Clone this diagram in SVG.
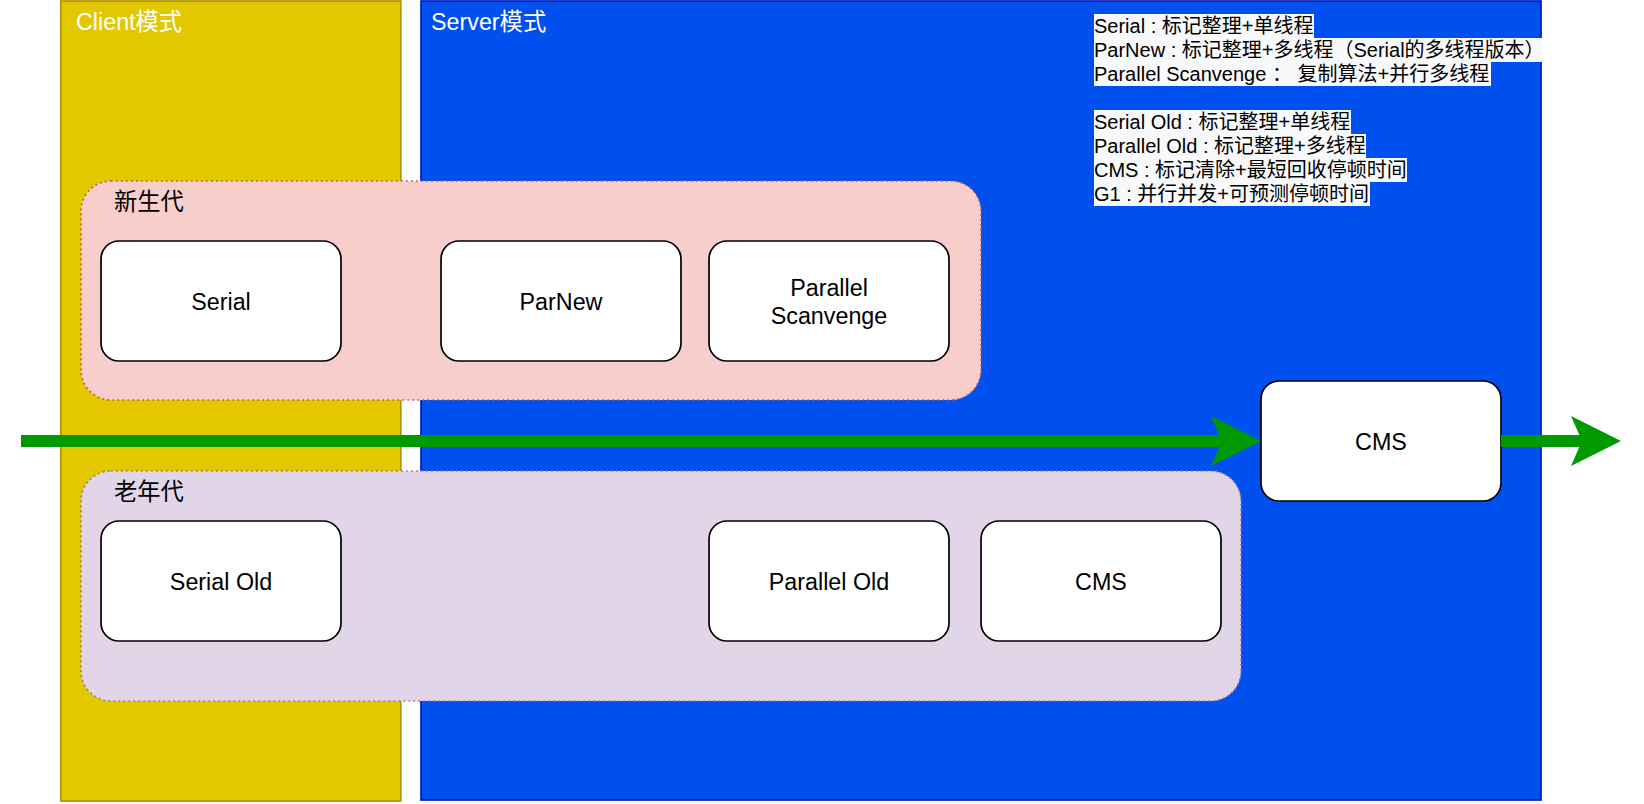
<svg xmlns="http://www.w3.org/2000/svg" width="1644" height="804" viewBox="0 0 1644 804">
<style>
  text { font-family: "Liberation Sans", "Noto Sans CJK SC", sans-serif; }
  .title { font-size: 23.3px; fill: #ffffff; }
  .grp { font-size: 23.3px; fill: #000000; }
  .lbl { font-size: 23.3px; fill: #000000; text-anchor: middle; }
  .leg { font-size: 20px; fill: #000000; }
  .node { fill: #ffffff; stroke: #000000; stroke-width: 1.7; }
  .hl { fill: #f8f9fa; }
  .green { fill: none; stroke: #009900; stroke-width: 12; }
</style>
<defs>
  <marker id="arr" viewBox="0 0 50 50" refX="11" refY="25" markerWidth="50" markerHeight="50" markerUnits="userSpaceOnUse" orient="auto">
    <path d="M0,0 L50,25 L0,50 L11,25 Z" fill="#009900"/>
  </marker>
</defs>
<rect width="1644" height="804" fill="#ffffff"/>

<g id="client">
  <rect x="60.8" y="1" width="340" height="800" fill="#e3c800" stroke="#B09500" stroke-width="1.7"/>
  <text class="title" x="76" y="30">Client模式</text>
</g>
<g id="server">
  <rect x="421" y="1" width="1120" height="799" fill="#0050ef" stroke="#001DBC" stroke-width="1.7"/>
  <text class="title" x="431" y="30">Server模式</text>
</g>

<g id="legend">
  <rect class="hl" x="1094" y="14" width="220" height="24"/>
  <rect class="hl" x="1094" y="38" width="448" height="24"/>
  <rect class="hl" x="1094" y="62" width="397" height="24"/>
  <rect class="hl" x="1094" y="110" width="257" height="24"/>
  <rect class="hl" x="1094" y="134" width="272" height="24"/>
  <rect class="hl" x="1094" y="158" width="313" height="24"/>
  <rect class="hl" x="1094" y="182" width="276" height="24"/>
  <text class="leg" x="1094" y="33">Serial : 标记整理+单线程</text>
  <text class="leg" x="1094" y="57">ParNew : 标记整理+多线程（Serial的多线程版本）</text>
  <text class="leg" x="1094" y="81">Parallel Scanvenge ：  复制算法+并行多线程</text>
  <text class="leg" x="1094" y="129">Serial Old : 标记整理+单线程</text>
  <text class="leg" x="1094" y="153">Parallel Old : 标记整理+多线程</text>
  <text class="leg" x="1094" y="177">CMS : 标记清除+最短回收停顿时间</text>
  <text class="leg" x="1094" y="201">G1 : 并行并发+可预测停顿时间</text>
</g>

<g id="young">
  <rect x="81" y="181" width="900" height="219" rx="30" ry="30" fill="#f8cecc" stroke="#b85450" stroke-width="1.7" stroke-dasharray="1.7 3.3"/>
  <text class="grp" x="114" y="210">新生代</text>
</g>
<g id="old">
  <rect x="81" y="471" width="1160" height="230" rx="30" ry="30" fill="#e1d5e7" stroke="#9673a6" stroke-width="1.7" stroke-dasharray="1.7 3.3"/>
  <text class="grp" x="114" y="500">老年代</text>
</g>

<g id="serial">
  <rect class="node" x="101" y="241" width="240" height="120" rx="18" ry="18"/>
  <text class="lbl" x="221" y="309.5">Serial</text>
</g>
<g id="parnew">
  <rect class="node" x="441" y="241" width="240" height="120" rx="18" ry="18"/>
  <text class="lbl" x="561" y="309.5">ParNew</text>
</g>
<g id="parallel-scanvenge">
  <rect class="node" x="709" y="241" width="240" height="120" rx="18" ry="18"/>
  <text class="lbl" x="829" y="295.5">Parallel</text>
  <text class="lbl" x="829" y="323.5">Scanvenge</text>
</g>
<g id="serial-old">
  <rect class="node" x="101" y="521" width="240" height="120" rx="18" ry="18"/>
  <text class="lbl" x="221" y="589.5">Serial Old</text>
</g>
<g id="parallel-old">
  <rect class="node" x="709" y="521" width="240" height="120" rx="18" ry="18"/>
  <text class="lbl" x="829" y="589.5">Parallel Old</text>
</g>
<g id="cms-old">
  <rect class="node" x="981" y="521" width="240" height="120" rx="18" ry="18"/>
  <text class="lbl" x="1101" y="589.5">CMS</text>
</g>
<g id="cms">
  <rect class="node" x="1261" y="381" width="240" height="120" rx="18" ry="18"/>
  <text class="lbl" x="1381" y="449.5">CMS</text>
</g>

<g id="connectors">
  <path class="green" d="M21,441 L1222,441" marker-end="url(#arr)"/>
  <path class="green" d="M1501,441 L1582,441" marker-end="url(#arr)"/>
</g>
</svg>
